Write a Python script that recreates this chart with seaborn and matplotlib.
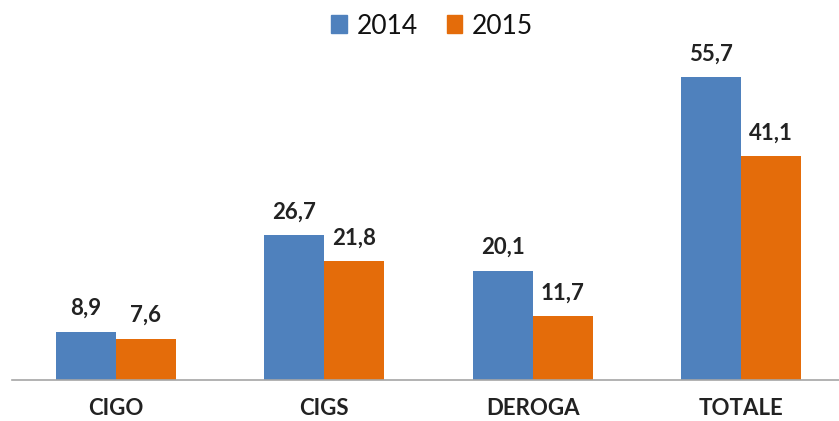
import pandas as pd
import seaborn as sns
import matplotlib.pyplot as plt

# values
categories = ["CIGO", "CIGS", "DEROGA", "TOTALE"]
years = ["2014", "2015"]
values_2014 = [8.9, 26.7, 20.1, 55.7]
values_2015 = [7.6, 21.8, 11.7, 41.1]

df = pd.DataFrame({
    "categoria": categories * 2,
    "anno": [years[0]] * 4 + [years[1]] * 4,
    "valore": values_2014 + values_2015,
})

sns.set_style("white")
plt.rcParams['font.family'] = ['Lato', 'DejaVu Sans']

fig = plt.figure(figsize=(8.39, 4.21), dpi=100)
ax = fig.add_axes([11.8 / 839, (421 - 380) / 421, 833.3 / 839, 340 / 421])

colors = {"2014": "#4F81BD", "2015": "#E46C0A"}
sns.barplot(data=df, x="categoria", y="valore", hue="anno", palette=colors,
            width=0.576, gap=0, ax=ax, saturation=1, edgecolor="none")

for cont in ax.containers:
    ax.bar_label(cont, labels=[f"{v:.1f}".replace(".", ",") for v in cont.datavalues],
                 padding=9, fontsize=16, fontweight="bold", color="#222222")

ax.set_xlim(-0.5, 3.5)
ax.set_ylim(0, 62.5)
ax.set_xlabel("")
ax.set_ylabel("")
ax.set_yticks([])
ax.tick_params(axis="x", length=0, pad=13)
for lab in ax.get_xticklabels():
    lab.set_fontweight("bold")
    lab.set_fontsize(16)
    lab.set_color("#222222")

for s in ["top", "right", "left"]:
    ax.spines[s].set_visible(False)
ax.spines["bottom"].set_color("#a6a6a6")
ax.spines["bottom"].set_linewidth(1.2)

ax.legend_.remove()
handles = [plt.Rectangle((0, 0), 1, 1, color=colors[y]) for y in years]
fig.legend(handles, years, loc="center", bbox_to_anchor=(432 / 839, 1 - 26 / 421),
           ncol=2, frameon=False, fontsize=19, handlelength=0.6, handleheight=0.65,
           handletextpad=0.35, columnspacing=1.1, labelcolor="#111111")

plt.savefig("out.png", dpi=100)
